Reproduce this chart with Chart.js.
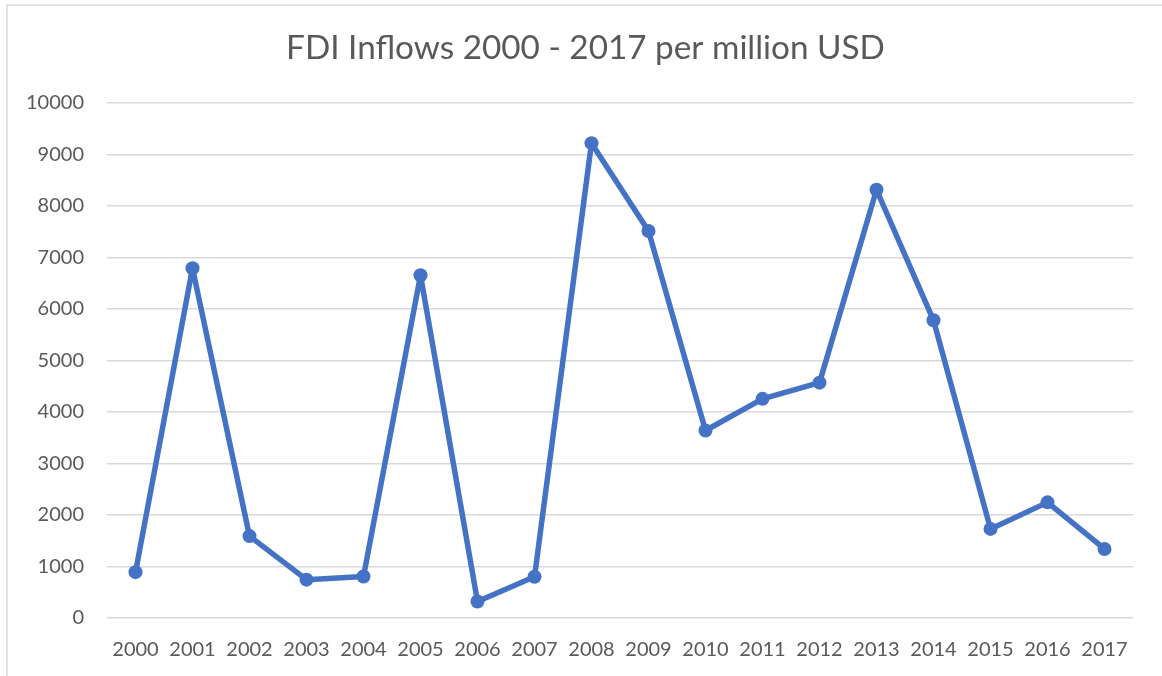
<!DOCTYPE html>
<html>
<head>
<meta charset="utf-8">
<script src="https://cdn.jsdelivr.net/npm/chart.js@4/dist/chart.umd.min.js"></script>
<style>
  html, body { margin: 0; padding: 0; background: #ffffff; }
  #wrap { width: 1162px; height: 676px; position: relative; }
</style>
</head>
<body>
<div id="wrap"><canvas id="fdi" width="1162" height="676"></canvas></div>
<script>
// FDI inflows by year, million USD
const years = ['2000','2001','2002','2003','2004','2005','2006','2007','2008',
               '2009','2010','2011','2012','2013','2014','2015','2016','2017'];
const inflows = [890, 6790, 1590, 745, 805, 6655, 320, 800, 9220,
                 7515, 3640, 4255, 4570, 8315, 5780, 1730, 2245, 1340];
const yTicks = [0, 1000, 2000, 3000, 4000, 5000, 6000, 7000, 8000, 9000, 10000];

const textColor = '#595959';
const gridColor = '#d9d9d9';
const lineColor = '#4472c4';

// thin frame around the whole chart
const framePlugin = {
  id: 'frame',
  beforeDraw(chart) {
    const ctx = chart.ctx;
    ctx.save();
    ctx.fillStyle = '#ffffff';
    ctx.fillRect(0, 0, chart.width, chart.height);
    ctx.strokeStyle = '#d9d9d9';
    ctx.lineWidth = 1.5;
    ctx.strokeRect(7, 5, chart.width - 7 + 5, chart.height + 10);
    ctx.restore();
  }
};

new Chart(document.getElementById('fdi'), {
  type: 'line',
  data: {
    labels: years,
    datasets: [{
      label: 'FDI Inflows',
      data: inflows,
      borderColor: lineColor,
      backgroundColor: lineColor,
      borderWidth: 5.5,
      borderJoinStyle: 'round',
      borderCapStyle: 'round',
      pointRadius: 7,
      pointHoverRadius: 7,
      pointBorderWidth: 0,
      pointBackgroundColor: lineColor,
      pointBorderColor: lineColor,
      tension: 0,
      fill: false
    }]
  },
  options: {
    responsive: false,
    animation: false,
    devicePixelRatio: 1,
    layout: { padding: { top: 0, right: 0, bottom: 0, left: 9 } },
    plugins: {
      legend: { display: false },
      tooltip: { enabled: false },
      title: {
        display: true,
        text: 'FDI Inflows 2000 - 2017 per million USD',
        color: textColor,
        font: { family: 'Lato', size: 33.3, weight: 'normal', lineHeight: 1.2 },
        padding: { top: 28, bottom: 35 }
      }
    },
    scales: {
      x: {
        offset: true,
        grid: { display: false, drawTicks: false },
        border: { display: false },
        ticks: {
          color: textColor,
          font: { family: 'Lato', size: 20 },
          padding: 20,
          maxRotation: 0,
          autoSkip: false
        },
        afterFit(scale) { scale.height = 58; }
      },
      y: {
        min: 0,
        max: 10000,
        afterBuildTicks(scale) { scale.ticks = yTicks.map(v => ({ value: v })); },
        grid: { color: gridColor, lineWidth: 1.5, drawTicks: false },
        border: { display: false },
        ticks: {
          color: textColor,
          font: { family: 'Lato', size: 20 },
          padding: 23,
          callback: (v) => String(v)
        },
        afterFit(scale) { scale.width = 98; }
      },
      // empty right-hand margin beside the plot
      yRight: {
        position: 'right',
        min: 0,
        max: 10000,
        grid: { display: false, drawTicks: false },
        border: { display: false },
        ticks: { display: false },
        afterFit(scale) { scale.width = 29; }
      }
    }
  },
  plugins: [framePlugin]
});
</script>
</body>
</html>
